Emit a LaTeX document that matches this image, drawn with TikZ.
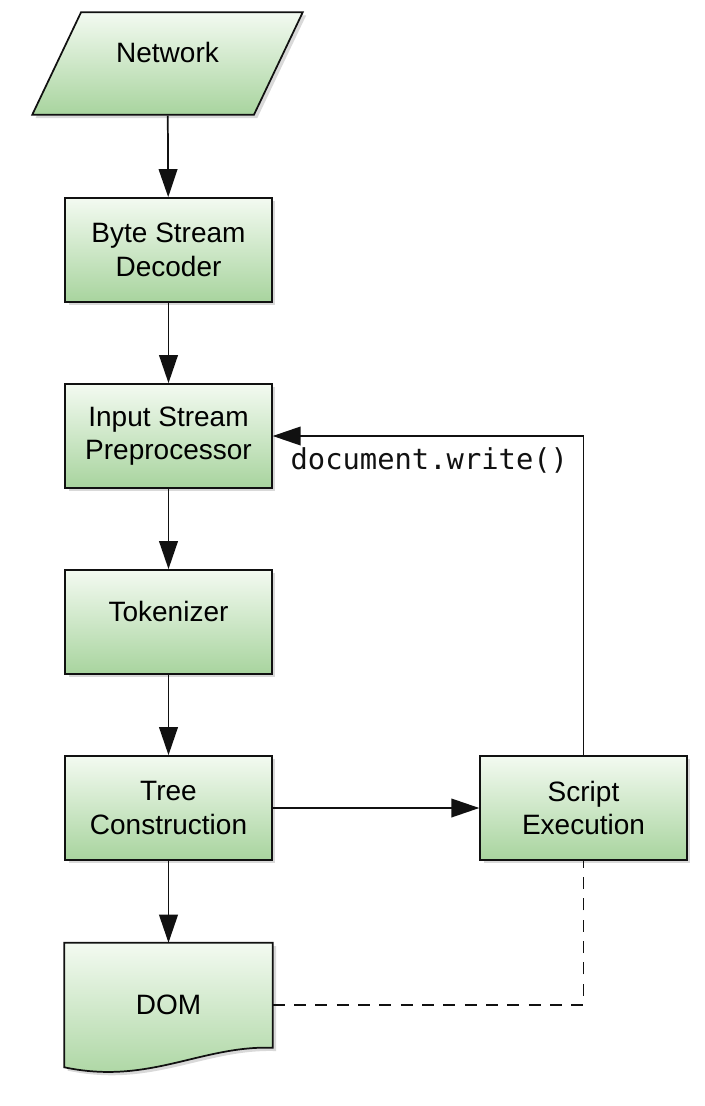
\documentclass[tikz,border=0pt]{standalone}
\usepackage{fontspec}
\setmainfont{Liberation Sans}
\setmonofont{DejaVu Sans Mono}
\usepackage{xcolor}
\definecolor{flowTop}{HTML}{F3FAF1}
\definecolor{flowGreen}{HTML}{A8D49E}
\definecolor{flowDark}{HTML}{111111}
\usepackage{tikz}
\usetikzlibrary{shapes.geometric,arrows.meta,positioning,shadows,calc,backgrounds}
\tikzset{
    stage/.style={
        draw=flowDark,
        top color=flowTop,
        bottom color=flowGreen,
        rectangle,
        align=center,
        minimum width=155pt,
        minimum height=78pt,
        line width=1.3pt,
        drop shadow={shadow xshift=2.5pt, shadow yshift=-2.5pt, opacity=0.3},
        font=\fontsize{21}{25}\selectfont
    },
    raised/.style={
        text depth=16pt
    },
    source/.style={
        stage,
        trapezium,
        trapezium left angle=58,
        trapezium right angle=122,
        trapezium stretches=true,
        minimum width=203pt,
        minimum height=77pt
    },
    docshape/.style={
        draw=flowDark,
        top color=flowTop,
        bottom color=flowGreen,
        line width=1.3pt,
        drop shadow={shadow xshift=2.5pt, shadow yshift=-2.5pt, opacity=0.3}
    },
    arrow/.style={
        -{Triangle[length=21pt,width=14pt]},
        line width=1.3pt,
        color=flowDark
    },
    link/.style={
        line width=1.3pt,
        dash pattern=on 9pt off 7pt,
        color=flowDark
    },
    code/.style={
        font=\ttfamily\fontsize{21.6}{25}\selectfont,
        inner sep=8pt
    }
}
\begin{document}
\begin{tikzpicture}[x=0.75pt,y=-0.75pt]
    \useasboundingbox (0,0) rectangle (704,1106);

    % Pipeline
    \node[source, raised] (net) at (167.5,63.5) {Network};
    \node[stage] (decoder) at (168.5,250) {Byte Stream\\Decoder};
    \node[stage] (prep) at (168.5,436) {Input Stream\\Preprocessor};
    \node[stage, raised] (tok) at (168.5,622) {Tokenizer};
    \node[stage] (tree) at (168.5,808) {Tree\\Construction};
    \node[stage] (script) at (583.5,808) {Script\\Execution};

    % DOM document
    \node[font=\fontsize{21}{25}\selectfont, minimum width=156pt, minimum height=93pt] (dom) at (168.5,1005) {DOM};
    \begin{scope}[on background layer]
        \path[docshape] (dom.north west) -- (dom.north east) -- ($(dom.north east)+(0,105)$)
            .. controls ($(dom.south east)+(-72,-22)$) and ($(dom.south west)+(85,18)$) .. (dom.south west) -- cycle;
    \end{scope}

    % Arrows
    \draw[arrow] (net) -- (decoder);
    \draw[arrow] (decoder) -- (prep);
    \draw[arrow] (prep) -- (tok);
    \draw[arrow] (tok) -- (tree);
    \draw[arrow] (tree) -- (dom);
    \draw[arrow] (tree) -- (script);
    \draw[arrow] (script.north) |- node[code, pos=0.748, below] (dwlabel) {document.write()} (prep.east);
    \draw[link] (dom.east) -| (script.south);
\end{tikzpicture}
\end{document}
